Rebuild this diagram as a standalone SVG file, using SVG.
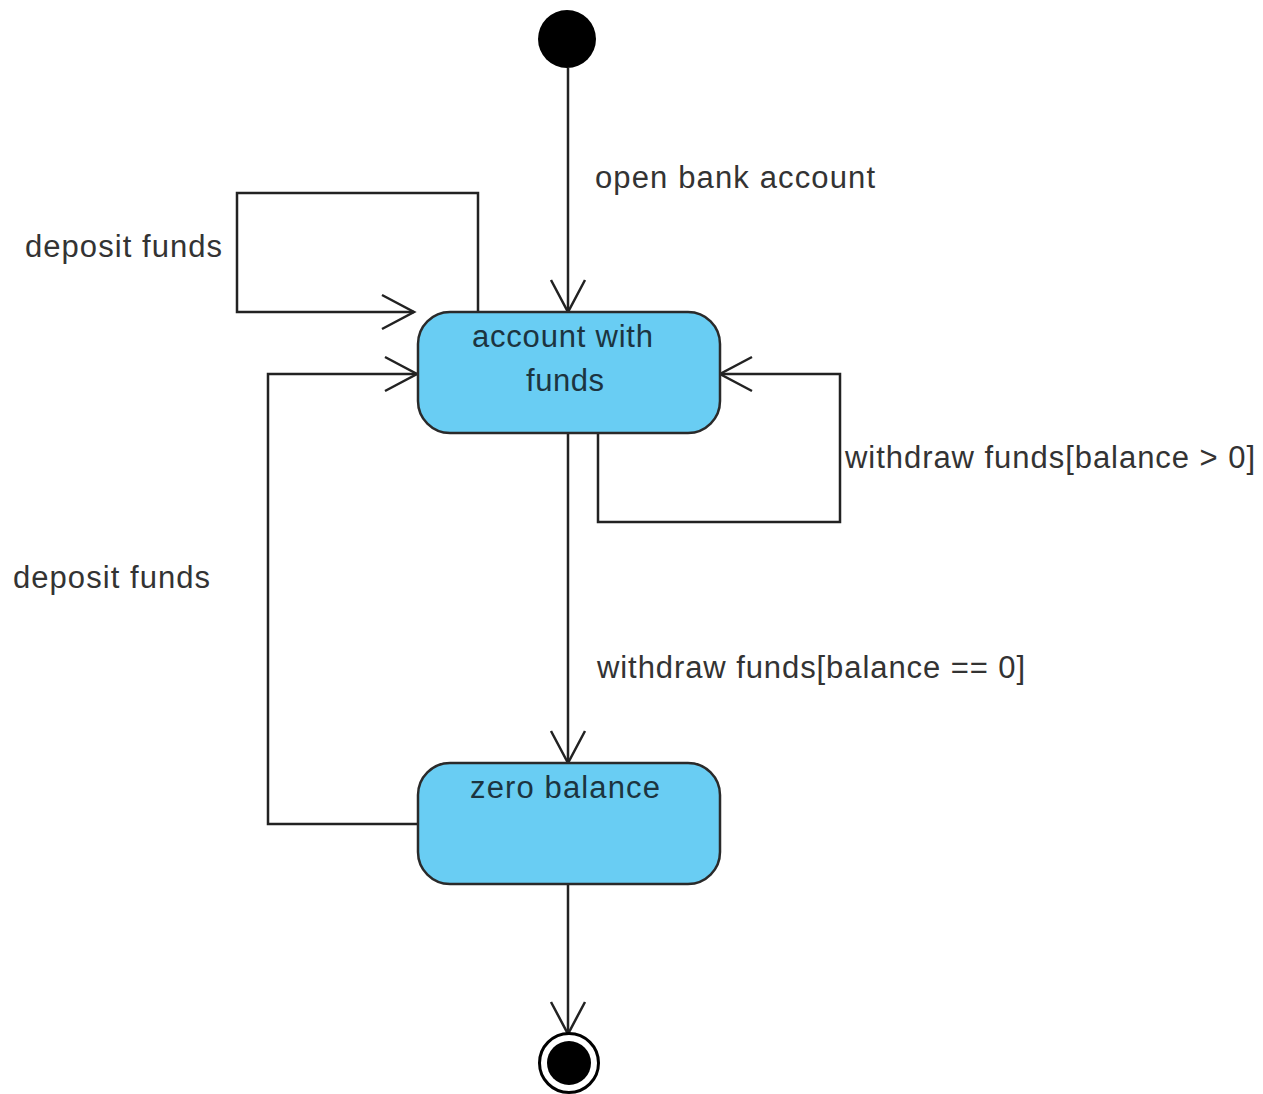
<svg xmlns="http://www.w3.org/2000/svg" width="1263" height="1094" viewBox="0 0 1263 1094">
<style>
.state{fill:#69CDF3;stroke:#2a2a2a;stroke-width:2.5}
.conn{fill:none;stroke:#222;stroke-width:2.5;marker-end:url(#arr)}
.lbl{font-family:"Liberation Sans",Arial,sans-serif;font-size:31px;fill:#333}
.ntext{font-family:"Liberation Sans",Arial,sans-serif;font-size:31px;fill:#1c3440}
</style>
<defs>
<marker id="arr" markerUnits="userSpaceOnUse" markerWidth="40" markerHeight="40" viewBox="-36 -20 40 40" refX="0" refY="0" orient="auto" overflow="visible">
<path d="M-32,-17 L0,0 L-32,17" fill="none" stroke="#222" stroke-width="2.5"/>
</marker>
</defs>
<rect width="1263" height="1094" fill="#fff"/>
<g id="connectors">
<path class="conn" d="M568,68 L568,312"/>
<path class="conn" d="M478,312 L478,193 L237,193 L237,312 L414,312"/>
<path class="conn" d="M418,824 L268,824 L268,374 L417,374"/>
<path class="conn" d="M598,433 L598,522 L840,522 L840,374 L720,374"/>
<path class="conn" d="M568,433 L568,763"/>
<path class="conn" d="M568,884 L568,1034"/>
</g>
<g id="labels">
<text class="lbl" x="595" y="188" textLength="280" lengthAdjust="spacing">open bank account</text>
<text class="lbl" x="25" y="257" textLength="197" lengthAdjust="spacing">deposit funds</text>
<text class="lbl" x="13" y="588" textLength="197" lengthAdjust="spacing">deposit funds</text>
<text class="lbl" x="845" y="468" textLength="410" lengthAdjust="spacing">withdraw funds[balance &gt; 0]</text>
<text class="lbl" x="597" y="678" textLength="428" lengthAdjust="spacing">withdraw funds[balance == 0]</text>
</g>
<g id="initial">
<circle cx="567" cy="39" r="29" fill="#000"/>
</g>
<g id="account-with-funds">
<rect class="state" x="418" y="312" width="302" height="121" rx="32" ry="32"/>
<text class="ntext" x="472" y="347" textLength="181" lengthAdjust="spacing">account with</text>
<text class="ntext" x="526" y="391" textLength="78" lengthAdjust="spacing">funds</text>
</g>
<g id="zero-balance">
<rect class="state" x="418" y="763" width="302" height="121" rx="32" ry="32"/>
<text class="ntext" x="470" y="798" textLength="190" lengthAdjust="spacing">zero balance</text>
</g>
<g id="final">
<circle cx="569" cy="1063" r="29.5" fill="#fff" stroke="#000" stroke-width="3"/>
<circle cx="569" cy="1063" r="22" fill="#000"/>
</g>
</svg>
